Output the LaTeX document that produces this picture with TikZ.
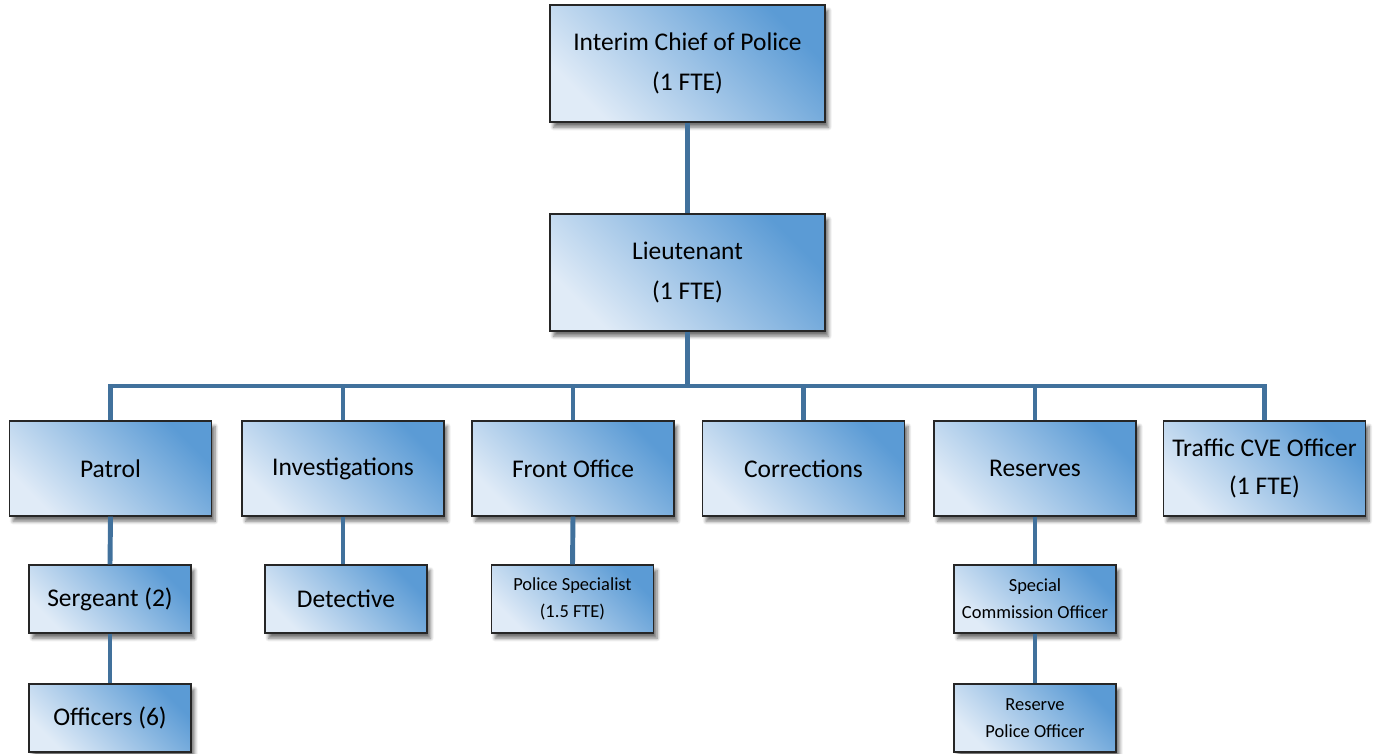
\documentclass[tikz,border=0pt]{standalone}
\usepackage{fontspec}
\setmainfont{Carlito}
\usetikzlibrary{shadows.blur}
\definecolor{boxlight}{HTML}{E0EBF7}
\definecolor{boxdark}{HTML}{5B9BD5}
\definecolor{linkblue}{HTML}{41719C}
\begin{document}
\begin{tikzpicture}
    \tikzset{
      orgbox/.style={
          draw=black!85, line width=0.6pt, rectangle, align=center,
          shading=axis, bottom color=boxlight, top color=boxdark, shading angle=-45,
          blur shadow={shadow xshift=2pt, shadow yshift=-3pt, shadow blur steps=6, shadow opacity=55}
        },
      topbox/.style={orgbox, minimum width=5.5cm, minimum height=2.34cm, font=\fontsize{14.5}{22.5}\selectfont},
      unitbox/.style={orgbox, minimum width=4.04cm, minimum height=1.9cm, font=\fontsize{14.5}{21.5}\selectfont},
      subbox/.style={orgbox, minimum width=3.24cm, minimum height=1.36cm, font=\fontsize{14.5}{20}\selectfont},
      smallbox/.style={orgbox, minimum width=3.24cm, minimum height=1.36cm, font=\fontsize{10.5}{15.3}\selectfont},
      link/.style={draw=linkblue, line width=2.8pt}
    }
    \useasboundingbox (0,0) rectangle (27.46,-15.08);

    \node[topbox] (chief) at (13.75, -1.27) {Interim Chief of Police\\(1 FTE)};
    \node[topbox] (lieutenant) at (13.75, -5.45) {Lieutenant\\(1 FTE)};

    \node[unitbox] (patrol) at (2.21, -9.37) {Patrol};
    \node[unitbox] (investigations) at (6.86, -9.37) {Investigations};
    \node[unitbox] (frontoffice) at (11.46, -9.37) {Front Office};
    \node[unitbox] (corrections) at (16.07, -9.37) {Corrections};
    \node[unitbox] (reserves) at (20.70, -9.37) {Reserves};
    \node[unitbox] (traffic) at (25.29, -9.37) {Traffic CVE Officer\\(1 FTE)};

    \node[subbox] (sergeant) at (2.20, -11.98) {Sergeant (2)};
    \node[subbox] (officers) at (2.20, -14.36) {Officers (6)};
    \node[subbox] (detective) at (6.92, -11.98) {Detective};
    \node[smallbox] (specialist) at (11.45, -11.98) {Police Specialist\\(1.5 FTE)};
    \node[smallbox] (specialcomm) at (20.70, -11.98) {Special\\Commission Officer};
    \node[smallbox] (reserveofficer) at (20.70, -14.36) {Reserve\\Police Officer};

    \coordinate (bus) at (13.75, -7.72);

    \draw[link] (chief.south) -- (lieutenant.north);
    \draw[link] (lieutenant.south) -- (bus);
    \draw[link] (patrol.north) |- (bus) -| (traffic.north);
    \draw[link] (investigations.north) -- (investigations.north |- bus);
    \draw[link] (frontoffice.north) -- (frontoffice.north |- bus);
    \draw[link] (corrections.north) -- (corrections.north |- bus);
    \draw[link] (reserves.north) -- (reserves.north |- bus);
    \draw[link] (patrol.south) -- (sergeant.north);
    \draw[link] (sergeant.south) -- (officers.north);
    \draw[link] (investigations.south) -- (investigations.south |- detective.north);
    \draw[link] (frontoffice.south) -- (specialist.north);
    \draw[link] (reserves.south) -- (specialcomm.north);
    \draw[link] (specialcomm.south) -- (reserveofficer.north);
  \end{tikzpicture}
\end{document}
